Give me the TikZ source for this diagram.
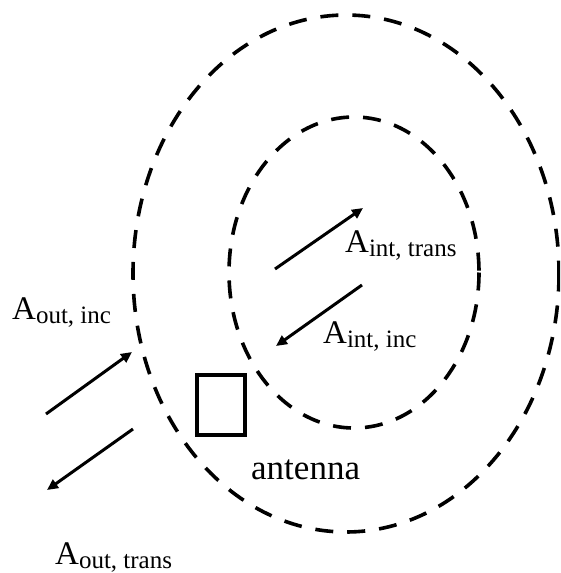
\documentclass[tikz,border=0pt]{standalone}
\usepackage{fontspec}
\setmainfont{Liberation Serif}
\usetikzlibrary{arrows.meta}

\newcommand{\Alabel}[1]{{\fontsize{33}{33}\selectfont A}\raisebox{-4pt}{\fontsize{25}{25}\selectfont #1}}

\tikzset{
  boundary/.style={line width=3.6pt, dash pattern=on 18pt off 14pt},
  wave/.style={line width=3pt, -{Triangle[length=11pt,width=10pt]}},
  antennabox/.style={draw, line width=4pt, minimum width=48pt, minimum height=60pt, inner sep=0pt},
  amplitude/.style={anchor=base west, inner sep=0pt},
}

\begin{document}
\begin{tikzpicture}[x=1pt, y=-1pt]
  \useasboundingbox (0,0) rectangle (560,573);
  \clip (0,0) rectangle (560,573);

  % outer and inner boundaries
  \draw[boundary] (346,273.5) ellipse [x radius=213, y radius=258.5];
  \draw[boundary] (354,272.5) ellipse [x radius=125, y radius=155.5];

  % antenna
  \node[antennabox] (ant) at (221,405) {};
  \node[anchor=base west, inner sep=0pt] (antlabel) at (251,479)
    {\fontsize{35}{35}\selectfont antenna};

  % wave endpoints
  \coordinate (oi1) at (46,414);
  \coordinate (oi2) at (132,352);
  \coordinate (ot1) at (133,429);
  \coordinate (ot2) at (47,490);
  \coordinate (it1) at (275,269);
  \coordinate (it2) at (363,208);
  \coordinate (ii1) at (362,285);
  \coordinate (ii2) at (276,346);

  \draw[wave] (oi1) -- (oi2);
  \draw[wave] (ot1) -- (ot2);
  \draw[wave] (it1) -- (it2);
  \draw[wave] (ii1) -- (ii2);

  % amplitude labels
  \node[amplitude] (aoutinc) at (12,319) {\Alabel{out, inc}};
  \node[amplitude] (aouttrans) at (55,564) {\Alabel{out, trans}};
  \node[amplitude] (ainttrans) at (345,252) {\Alabel{int, trans}};
  \node[amplitude] (aintinc) at (323,343) {\Alabel{int, inc}};
\end{tikzpicture}
\end{document}
